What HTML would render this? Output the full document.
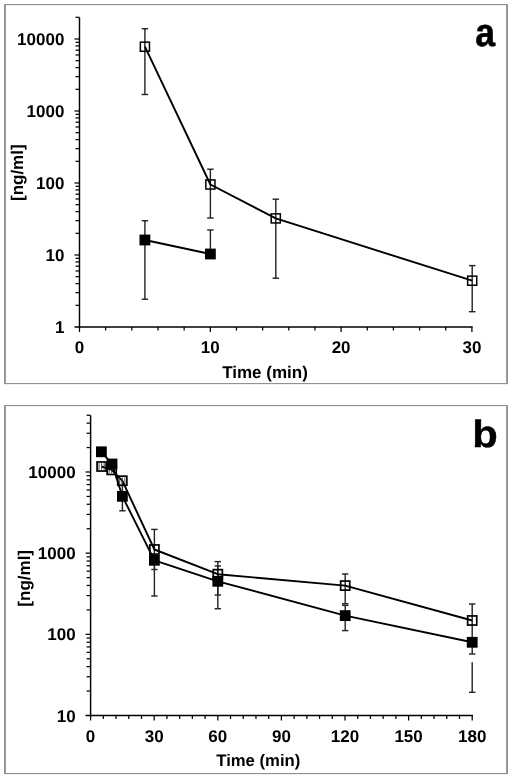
<!DOCTYPE html>
<html><head><meta charset="utf-8"><style>
html,body{margin:0;padding:0;background:#fff;width:512px;height:778px;overflow:hidden}
svg{position:absolute;left:0;top:0;will-change:transform}
text{font-family:"Liberation Sans", sans-serif;font-weight:bold;fill:#000;text-rendering:geometricPrecision}
</style></head><body>
<svg width="512" height="778" viewBox="0 0 512 778">
<path d="M4 4H508V384H4Z" fill="none" stroke="none"/>
<rect x="4" y="4" width="504" height="1.15" fill="#929292"/>
<rect x="4" y="383" width="504" height="1.15" fill="#929292"/>
<rect x="4" y="4" width="1.9" height="380" fill="#929292"/>
<rect x="506.1" y="4" width="1.9" height="380" fill="#929292"/>
<line x1="79.50" y1="17.50" x2="79.50" y2="327.80" stroke="#000" stroke-width="1.45" stroke-linecap="butt"/>
<line x1="74.50" y1="327.00" x2="472.70" y2="327.00" stroke="#000" stroke-width="1.45" stroke-linecap="butt"/>
<line x1="75.50" y1="305.33" x2="79.50" y2="305.33" stroke="#000" stroke-width="1.25" stroke-linecap="butt"/>
<line x1="75.50" y1="292.65" x2="79.50" y2="292.65" stroke="#000" stroke-width="1.25" stroke-linecap="butt"/>
<line x1="75.50" y1="283.65" x2="79.50" y2="283.65" stroke="#000" stroke-width="1.25" stroke-linecap="butt"/>
<line x1="75.50" y1="276.67" x2="79.50" y2="276.67" stroke="#000" stroke-width="1.25" stroke-linecap="butt"/>
<line x1="75.50" y1="270.97" x2="79.50" y2="270.97" stroke="#000" stroke-width="1.25" stroke-linecap="butt"/>
<line x1="75.50" y1="266.15" x2="79.50" y2="266.15" stroke="#000" stroke-width="1.25" stroke-linecap="butt"/>
<line x1="75.50" y1="261.98" x2="79.50" y2="261.98" stroke="#000" stroke-width="1.25" stroke-linecap="butt"/>
<line x1="75.50" y1="258.29" x2="79.50" y2="258.29" stroke="#000" stroke-width="1.25" stroke-linecap="butt"/>
<line x1="74.50" y1="255.00" x2="79.50" y2="255.00" stroke="#000" stroke-width="1.25" stroke-linecap="butt"/>
<line x1="75.50" y1="233.33" x2="79.50" y2="233.33" stroke="#000" stroke-width="1.25" stroke-linecap="butt"/>
<line x1="75.50" y1="220.65" x2="79.50" y2="220.65" stroke="#000" stroke-width="1.25" stroke-linecap="butt"/>
<line x1="75.50" y1="211.65" x2="79.50" y2="211.65" stroke="#000" stroke-width="1.25" stroke-linecap="butt"/>
<line x1="75.50" y1="204.67" x2="79.50" y2="204.67" stroke="#000" stroke-width="1.25" stroke-linecap="butt"/>
<line x1="75.50" y1="198.97" x2="79.50" y2="198.97" stroke="#000" stroke-width="1.25" stroke-linecap="butt"/>
<line x1="75.50" y1="194.15" x2="79.50" y2="194.15" stroke="#000" stroke-width="1.25" stroke-linecap="butt"/>
<line x1="75.50" y1="189.98" x2="79.50" y2="189.98" stroke="#000" stroke-width="1.25" stroke-linecap="butt"/>
<line x1="75.50" y1="186.29" x2="79.50" y2="186.29" stroke="#000" stroke-width="1.25" stroke-linecap="butt"/>
<line x1="74.50" y1="183.00" x2="79.50" y2="183.00" stroke="#000" stroke-width="1.25" stroke-linecap="butt"/>
<line x1="75.50" y1="161.33" x2="79.50" y2="161.33" stroke="#000" stroke-width="1.25" stroke-linecap="butt"/>
<line x1="75.50" y1="148.65" x2="79.50" y2="148.65" stroke="#000" stroke-width="1.25" stroke-linecap="butt"/>
<line x1="75.50" y1="139.65" x2="79.50" y2="139.65" stroke="#000" stroke-width="1.25" stroke-linecap="butt"/>
<line x1="75.50" y1="132.67" x2="79.50" y2="132.67" stroke="#000" stroke-width="1.25" stroke-linecap="butt"/>
<line x1="75.50" y1="126.97" x2="79.50" y2="126.97" stroke="#000" stroke-width="1.25" stroke-linecap="butt"/>
<line x1="75.50" y1="122.15" x2="79.50" y2="122.15" stroke="#000" stroke-width="1.25" stroke-linecap="butt"/>
<line x1="75.50" y1="117.98" x2="79.50" y2="117.98" stroke="#000" stroke-width="1.25" stroke-linecap="butt"/>
<line x1="75.50" y1="114.29" x2="79.50" y2="114.29" stroke="#000" stroke-width="1.25" stroke-linecap="butt"/>
<line x1="74.50" y1="111.00" x2="79.50" y2="111.00" stroke="#000" stroke-width="1.25" stroke-linecap="butt"/>
<line x1="75.50" y1="89.33" x2="79.50" y2="89.33" stroke="#000" stroke-width="1.25" stroke-linecap="butt"/>
<line x1="75.50" y1="76.65" x2="79.50" y2="76.65" stroke="#000" stroke-width="1.25" stroke-linecap="butt"/>
<line x1="75.50" y1="67.65" x2="79.50" y2="67.65" stroke="#000" stroke-width="1.25" stroke-linecap="butt"/>
<line x1="75.50" y1="60.67" x2="79.50" y2="60.67" stroke="#000" stroke-width="1.25" stroke-linecap="butt"/>
<line x1="75.50" y1="54.97" x2="79.50" y2="54.97" stroke="#000" stroke-width="1.25" stroke-linecap="butt"/>
<line x1="75.50" y1="50.15" x2="79.50" y2="50.15" stroke="#000" stroke-width="1.25" stroke-linecap="butt"/>
<line x1="75.50" y1="45.98" x2="79.50" y2="45.98" stroke="#000" stroke-width="1.25" stroke-linecap="butt"/>
<line x1="75.50" y1="42.29" x2="79.50" y2="42.29" stroke="#000" stroke-width="1.25" stroke-linecap="butt"/>
<line x1="74.50" y1="39.00" x2="79.50" y2="39.00" stroke="#000" stroke-width="1.25" stroke-linecap="butt"/>
<line x1="75.50" y1="17.33" x2="79.50" y2="17.33" stroke="#000" stroke-width="1.25" stroke-linecap="butt"/>
<line x1="79.50" y1="327.00" x2="79.50" y2="332.00" stroke="#000" stroke-width="1.25" stroke-linecap="butt"/>
<line x1="105.66" y1="327.00" x2="105.66" y2="330.50" stroke="#000" stroke-width="1.25" stroke-linecap="butt"/>
<line x1="131.82" y1="327.00" x2="131.82" y2="330.50" stroke="#000" stroke-width="1.25" stroke-linecap="butt"/>
<line x1="157.98" y1="327.00" x2="157.98" y2="330.50" stroke="#000" stroke-width="1.25" stroke-linecap="butt"/>
<line x1="184.14" y1="327.00" x2="184.14" y2="330.50" stroke="#000" stroke-width="1.25" stroke-linecap="butt"/>
<line x1="210.30" y1="327.00" x2="210.30" y2="332.00" stroke="#000" stroke-width="1.25" stroke-linecap="butt"/>
<line x1="236.46" y1="327.00" x2="236.46" y2="330.50" stroke="#000" stroke-width="1.25" stroke-linecap="butt"/>
<line x1="262.62" y1="327.00" x2="262.62" y2="330.50" stroke="#000" stroke-width="1.25" stroke-linecap="butt"/>
<line x1="288.78" y1="327.00" x2="288.78" y2="330.50" stroke="#000" stroke-width="1.25" stroke-linecap="butt"/>
<line x1="314.94" y1="327.00" x2="314.94" y2="330.50" stroke="#000" stroke-width="1.25" stroke-linecap="butt"/>
<line x1="341.10" y1="327.00" x2="341.10" y2="332.00" stroke="#000" stroke-width="1.25" stroke-linecap="butt"/>
<line x1="367.26" y1="327.00" x2="367.26" y2="330.50" stroke="#000" stroke-width="1.25" stroke-linecap="butt"/>
<line x1="393.42" y1="327.00" x2="393.42" y2="330.50" stroke="#000" stroke-width="1.25" stroke-linecap="butt"/>
<line x1="419.58" y1="327.00" x2="419.58" y2="330.50" stroke="#000" stroke-width="1.25" stroke-linecap="butt"/>
<line x1="445.74" y1="327.00" x2="445.74" y2="330.50" stroke="#000" stroke-width="1.25" stroke-linecap="butt"/>
<line x1="471.90" y1="327.00" x2="471.90" y2="332.00" stroke="#000" stroke-width="1.25" stroke-linecap="butt"/>
<text x="64.40" y="45.00" font-size="17" text-anchor="end" >10000</text>
<text x="64.40" y="117.00" font-size="17" text-anchor="end" >1000</text>
<text x="64.40" y="189.00" font-size="17" text-anchor="end" >100</text>
<text x="64.40" y="261.00" font-size="17" text-anchor="end" >10</text>
<text x="64.40" y="333.00" font-size="17" text-anchor="end" >1</text>
<text x="79.50" y="352.80" font-size="17" text-anchor="middle" >0</text>
<text x="210.30" y="352.80" font-size="17" text-anchor="middle" >10</text>
<text x="341.10" y="352.80" font-size="17" text-anchor="middle" >20</text>
<text x="471.90" y="352.80" font-size="17" text-anchor="middle" >30</text>
<text x="265.00" y="377.50" font-size="17" text-anchor="middle" >Time (min)</text>
<text transform="translate(17.5,172.7) rotate(-90)" font-size="17" text-anchor="middle" dominant-baseline="central">[ng/ml]</text>
<text transform="translate(475.3,46.3) scale(0.9,1)" font-size="39.5" stroke="#000" stroke-width="0.6">a</text>
<line x1="144.90" y1="28.70" x2="144.90" y2="94.50" stroke="#222" stroke-width="1.4" stroke-linecap="butt"/>
<line x1="141.65" y1="28.70" x2="148.15" y2="28.70" stroke="#222" stroke-width="1.4" stroke-linecap="butt"/>
<line x1="141.65" y1="94.50" x2="148.15" y2="94.50" stroke="#222" stroke-width="1.4" stroke-linecap="butt"/>
<line x1="210.40" y1="169.20" x2="210.40" y2="218.00" stroke="#222" stroke-width="1.4" stroke-linecap="butt"/>
<line x1="207.15" y1="169.20" x2="213.65" y2="169.20" stroke="#222" stroke-width="1.4" stroke-linecap="butt"/>
<line x1="207.15" y1="218.00" x2="213.65" y2="218.00" stroke="#222" stroke-width="1.4" stroke-linecap="butt"/>
<line x1="275.80" y1="199.20" x2="275.80" y2="278.20" stroke="#222" stroke-width="1.4" stroke-linecap="butt"/>
<line x1="272.55" y1="199.20" x2="279.05" y2="199.20" stroke="#222" stroke-width="1.4" stroke-linecap="butt"/>
<line x1="272.55" y1="278.20" x2="279.05" y2="278.20" stroke="#222" stroke-width="1.4" stroke-linecap="butt"/>
<line x1="472.20" y1="265.60" x2="472.20" y2="311.70" stroke="#222" stroke-width="1.4" stroke-linecap="butt"/>
<line x1="468.95" y1="265.60" x2="475.45" y2="265.60" stroke="#222" stroke-width="1.4" stroke-linecap="butt"/>
<line x1="468.95" y1="311.70" x2="475.45" y2="311.70" stroke="#222" stroke-width="1.4" stroke-linecap="butt"/>
<line x1="144.90" y1="220.70" x2="144.90" y2="299.20" stroke="#222" stroke-width="1.4" stroke-linecap="butt"/>
<line x1="141.70" y1="220.70" x2="148.10" y2="220.70" stroke="#222" stroke-width="1.4" stroke-linecap="butt"/>
<line x1="141.70" y1="299.20" x2="148.10" y2="299.20" stroke="#222" stroke-width="1.4" stroke-linecap="butt"/>
<line x1="210.40" y1="230.00" x2="210.40" y2="254.00" stroke="#222" stroke-width="1.4" stroke-linecap="butt"/>
<line x1="207.20" y1="230.00" x2="213.60" y2="230.00" stroke="#222" stroke-width="1.4" stroke-linecap="butt"/>
<rect x="140.35" y="42.15" width="9.10" height="9.10" fill="none" stroke="#000" stroke-width="1.5"/>
<rect x="205.85" y="179.95" width="9.10" height="9.10" fill="none" stroke="#000" stroke-width="1.5"/>
<rect x="271.25" y="213.85" width="9.10" height="9.10" fill="none" stroke="#000" stroke-width="1.5"/>
<rect x="467.65" y="276.15" width="9.10" height="9.10" fill="none" stroke="#000" stroke-width="1.5"/>
<rect x="139.50" y="234.60" width="10.80" height="10.80" fill="#000"/>
<rect x="205.00" y="248.60" width="10.80" height="10.80" fill="#000"/>
<polyline points="144.90,46.70 210.40,184.50 275.80,218.40 472.20,280.70" fill="none" stroke="#000" stroke-width="1.9" stroke-linejoin="round"/>
<polyline points="144.90,240.00 210.40,254.00" fill="none" stroke="#000" stroke-width="1.9" stroke-linejoin="round"/>
<path d="M4 405H508V774H4Z" fill="none" stroke="none"/>
<rect x="4" y="405" width="504" height="1.15" fill="#929292"/>
<rect x="4" y="773" width="504" height="1.15" fill="#929292"/>
<rect x="4" y="405" width="1.9" height="369" fill="#929292"/>
<rect x="506.1" y="405" width="1.9" height="369" fill="#929292"/>
<line x1="90.60" y1="415.40" x2="90.60" y2="716.30" stroke="#000" stroke-width="1.45" stroke-linecap="butt"/>
<line x1="85.60" y1="715.50" x2="473.00" y2="715.50" stroke="#000" stroke-width="1.45" stroke-linecap="butt"/>
<line x1="86.60" y1="691.07" x2="90.60" y2="691.07" stroke="#000" stroke-width="1.25" stroke-linecap="butt"/>
<line x1="86.60" y1="676.77" x2="90.60" y2="676.77" stroke="#000" stroke-width="1.25" stroke-linecap="butt"/>
<line x1="86.60" y1="666.63" x2="90.60" y2="666.63" stroke="#000" stroke-width="1.25" stroke-linecap="butt"/>
<line x1="86.60" y1="658.76" x2="90.60" y2="658.76" stroke="#000" stroke-width="1.25" stroke-linecap="butt"/>
<line x1="86.60" y1="652.34" x2="90.60" y2="652.34" stroke="#000" stroke-width="1.25" stroke-linecap="butt"/>
<line x1="86.60" y1="646.90" x2="90.60" y2="646.90" stroke="#000" stroke-width="1.25" stroke-linecap="butt"/>
<line x1="86.60" y1="642.20" x2="90.60" y2="642.20" stroke="#000" stroke-width="1.25" stroke-linecap="butt"/>
<line x1="86.60" y1="638.04" x2="90.60" y2="638.04" stroke="#000" stroke-width="1.25" stroke-linecap="butt"/>
<line x1="85.60" y1="634.33" x2="90.60" y2="634.33" stroke="#000" stroke-width="1.25" stroke-linecap="butt"/>
<line x1="86.60" y1="609.90" x2="90.60" y2="609.90" stroke="#000" stroke-width="1.25" stroke-linecap="butt"/>
<line x1="86.60" y1="595.60" x2="90.60" y2="595.60" stroke="#000" stroke-width="1.25" stroke-linecap="butt"/>
<line x1="86.60" y1="585.46" x2="90.60" y2="585.46" stroke="#000" stroke-width="1.25" stroke-linecap="butt"/>
<line x1="86.60" y1="577.59" x2="90.60" y2="577.59" stroke="#000" stroke-width="1.25" stroke-linecap="butt"/>
<line x1="86.60" y1="571.17" x2="90.60" y2="571.17" stroke="#000" stroke-width="1.25" stroke-linecap="butt"/>
<line x1="86.60" y1="565.73" x2="90.60" y2="565.73" stroke="#000" stroke-width="1.25" stroke-linecap="butt"/>
<line x1="86.60" y1="561.03" x2="90.60" y2="561.03" stroke="#000" stroke-width="1.25" stroke-linecap="butt"/>
<line x1="86.60" y1="556.87" x2="90.60" y2="556.87" stroke="#000" stroke-width="1.25" stroke-linecap="butt"/>
<line x1="85.60" y1="553.16" x2="90.60" y2="553.16" stroke="#000" stroke-width="1.25" stroke-linecap="butt"/>
<line x1="86.60" y1="528.73" x2="90.60" y2="528.73" stroke="#000" stroke-width="1.25" stroke-linecap="butt"/>
<line x1="86.60" y1="514.43" x2="90.60" y2="514.43" stroke="#000" stroke-width="1.25" stroke-linecap="butt"/>
<line x1="86.60" y1="504.29" x2="90.60" y2="504.29" stroke="#000" stroke-width="1.25" stroke-linecap="butt"/>
<line x1="86.60" y1="496.42" x2="90.60" y2="496.42" stroke="#000" stroke-width="1.25" stroke-linecap="butt"/>
<line x1="86.60" y1="490.00" x2="90.60" y2="490.00" stroke="#000" stroke-width="1.25" stroke-linecap="butt"/>
<line x1="86.60" y1="484.56" x2="90.60" y2="484.56" stroke="#000" stroke-width="1.25" stroke-linecap="butt"/>
<line x1="86.60" y1="479.86" x2="90.60" y2="479.86" stroke="#000" stroke-width="1.25" stroke-linecap="butt"/>
<line x1="86.60" y1="475.70" x2="90.60" y2="475.70" stroke="#000" stroke-width="1.25" stroke-linecap="butt"/>
<line x1="85.60" y1="471.99" x2="90.60" y2="471.99" stroke="#000" stroke-width="1.25" stroke-linecap="butt"/>
<line x1="86.60" y1="447.56" x2="90.60" y2="447.56" stroke="#000" stroke-width="1.25" stroke-linecap="butt"/>
<line x1="86.60" y1="433.26" x2="90.60" y2="433.26" stroke="#000" stroke-width="1.25" stroke-linecap="butt"/>
<line x1="86.60" y1="423.12" x2="90.60" y2="423.12" stroke="#000" stroke-width="1.25" stroke-linecap="butt"/>
<line x1="86.60" y1="415.25" x2="90.60" y2="415.25" stroke="#000" stroke-width="1.25" stroke-linecap="butt"/>
<line x1="90.60" y1="715.50" x2="90.60" y2="720.50" stroke="#000" stroke-width="1.25" stroke-linecap="butt"/>
<line x1="103.32" y1="715.50" x2="103.32" y2="719.00" stroke="#000" stroke-width="1.25" stroke-linecap="butt"/>
<line x1="116.04" y1="715.50" x2="116.04" y2="719.00" stroke="#000" stroke-width="1.25" stroke-linecap="butt"/>
<line x1="128.76" y1="715.50" x2="128.76" y2="719.00" stroke="#000" stroke-width="1.25" stroke-linecap="butt"/>
<line x1="141.48" y1="715.50" x2="141.48" y2="719.00" stroke="#000" stroke-width="1.25" stroke-linecap="butt"/>
<line x1="154.20" y1="715.50" x2="154.20" y2="720.50" stroke="#000" stroke-width="1.25" stroke-linecap="butt"/>
<line x1="166.92" y1="715.50" x2="166.92" y2="719.00" stroke="#000" stroke-width="1.25" stroke-linecap="butt"/>
<line x1="179.64" y1="715.50" x2="179.64" y2="719.00" stroke="#000" stroke-width="1.25" stroke-linecap="butt"/>
<line x1="192.36" y1="715.50" x2="192.36" y2="719.00" stroke="#000" stroke-width="1.25" stroke-linecap="butt"/>
<line x1="205.08" y1="715.50" x2="205.08" y2="719.00" stroke="#000" stroke-width="1.25" stroke-linecap="butt"/>
<line x1="217.80" y1="715.50" x2="217.80" y2="720.50" stroke="#000" stroke-width="1.25" stroke-linecap="butt"/>
<line x1="230.52" y1="715.50" x2="230.52" y2="719.00" stroke="#000" stroke-width="1.25" stroke-linecap="butt"/>
<line x1="243.24" y1="715.50" x2="243.24" y2="719.00" stroke="#000" stroke-width="1.25" stroke-linecap="butt"/>
<line x1="255.96" y1="715.50" x2="255.96" y2="719.00" stroke="#000" stroke-width="1.25" stroke-linecap="butt"/>
<line x1="268.68" y1="715.50" x2="268.68" y2="719.00" stroke="#000" stroke-width="1.25" stroke-linecap="butt"/>
<line x1="281.40" y1="715.50" x2="281.40" y2="720.50" stroke="#000" stroke-width="1.25" stroke-linecap="butt"/>
<line x1="294.12" y1="715.50" x2="294.12" y2="719.00" stroke="#000" stroke-width="1.25" stroke-linecap="butt"/>
<line x1="306.84" y1="715.50" x2="306.84" y2="719.00" stroke="#000" stroke-width="1.25" stroke-linecap="butt"/>
<line x1="319.56" y1="715.50" x2="319.56" y2="719.00" stroke="#000" stroke-width="1.25" stroke-linecap="butt"/>
<line x1="332.28" y1="715.50" x2="332.28" y2="719.00" stroke="#000" stroke-width="1.25" stroke-linecap="butt"/>
<line x1="345.00" y1="715.50" x2="345.00" y2="720.50" stroke="#000" stroke-width="1.25" stroke-linecap="butt"/>
<line x1="357.72" y1="715.50" x2="357.72" y2="719.00" stroke="#000" stroke-width="1.25" stroke-linecap="butt"/>
<line x1="370.44" y1="715.50" x2="370.44" y2="719.00" stroke="#000" stroke-width="1.25" stroke-linecap="butt"/>
<line x1="383.16" y1="715.50" x2="383.16" y2="719.00" stroke="#000" stroke-width="1.25" stroke-linecap="butt"/>
<line x1="395.88" y1="715.50" x2="395.88" y2="719.00" stroke="#000" stroke-width="1.25" stroke-linecap="butt"/>
<line x1="408.60" y1="715.50" x2="408.60" y2="720.50" stroke="#000" stroke-width="1.25" stroke-linecap="butt"/>
<line x1="421.32" y1="715.50" x2="421.32" y2="719.00" stroke="#000" stroke-width="1.25" stroke-linecap="butt"/>
<line x1="434.04" y1="715.50" x2="434.04" y2="719.00" stroke="#000" stroke-width="1.25" stroke-linecap="butt"/>
<line x1="446.76" y1="715.50" x2="446.76" y2="719.00" stroke="#000" stroke-width="1.25" stroke-linecap="butt"/>
<line x1="459.48" y1="715.50" x2="459.48" y2="719.00" stroke="#000" stroke-width="1.25" stroke-linecap="butt"/>
<line x1="472.20" y1="715.50" x2="472.20" y2="720.50" stroke="#000" stroke-width="1.25" stroke-linecap="butt"/>
<text x="75.60" y="477.99" font-size="17" text-anchor="end" >10000</text>
<text x="75.60" y="559.16" font-size="17" text-anchor="end" >1000</text>
<text x="75.60" y="640.33" font-size="17" text-anchor="end" >100</text>
<text x="75.60" y="721.50" font-size="17" text-anchor="end" >10</text>
<text x="90.60" y="742.00" font-size="17" text-anchor="middle" >0</text>
<text x="154.20" y="742.00" font-size="17" text-anchor="middle" >30</text>
<text x="217.80" y="742.00" font-size="17" text-anchor="middle" >60</text>
<text x="281.40" y="742.00" font-size="17" text-anchor="middle" >90</text>
<text x="345.00" y="742.00" font-size="17" text-anchor="middle" >120</text>
<text x="408.60" y="742.00" font-size="17" text-anchor="middle" >150</text>
<text x="472.20" y="742.00" font-size="17" text-anchor="middle" >180</text>
<text x="258.30" y="766.00" font-size="16.7" text-anchor="middle" >Time (min)</text>
<text transform="translate(24.9,578.3) rotate(-90)" font-size="17" text-anchor="middle" dominant-baseline="central">[ng/ml]</text>
<text transform="translate(472.2,446.8) scale(1.1,1)" font-size="38" stroke="#000" stroke-width="0.4">b</text>
<line x1="122.40" y1="480.80" x2="122.40" y2="510.80" stroke="#222" stroke-width="1.4" stroke-linecap="butt"/>
<line x1="119.20" y1="510.80" x2="125.60" y2="510.80" stroke="#222" stroke-width="1.4" stroke-linecap="butt"/>
<line x1="154.40" y1="529.40" x2="154.40" y2="569.50" stroke="#222" stroke-width="1.4" stroke-linecap="butt"/>
<line x1="151.20" y1="529.40" x2="157.60" y2="529.40" stroke="#222" stroke-width="1.4" stroke-linecap="butt"/>
<line x1="151.20" y1="569.50" x2="157.60" y2="569.50" stroke="#222" stroke-width="1.4" stroke-linecap="butt"/>
<line x1="154.40" y1="566.00" x2="154.40" y2="596.00" stroke="#222" stroke-width="1.4" stroke-linecap="butt"/>
<line x1="151.20" y1="596.00" x2="157.60" y2="596.00" stroke="#222" stroke-width="1.4" stroke-linecap="butt"/>
<line x1="217.80" y1="561.60" x2="217.80" y2="595.00" stroke="#222" stroke-width="1.4" stroke-linecap="butt"/>
<line x1="214.60" y1="561.60" x2="221.00" y2="561.60" stroke="#222" stroke-width="1.4" stroke-linecap="butt"/>
<line x1="214.60" y1="595.00" x2="221.00" y2="595.00" stroke="#222" stroke-width="1.4" stroke-linecap="butt"/>
<line x1="217.80" y1="566.00" x2="217.80" y2="608.75" stroke="#222" stroke-width="1.4" stroke-linecap="butt"/>
<line x1="214.60" y1="566.00" x2="221.00" y2="566.00" stroke="#222" stroke-width="1.4" stroke-linecap="butt"/>
<line x1="214.60" y1="608.75" x2="221.00" y2="608.75" stroke="#222" stroke-width="1.4" stroke-linecap="butt"/>
<line x1="345.20" y1="574.00" x2="345.20" y2="603.75" stroke="#222" stroke-width="1.4" stroke-linecap="butt"/>
<line x1="342.00" y1="574.00" x2="348.40" y2="574.00" stroke="#222" stroke-width="1.4" stroke-linecap="butt"/>
<line x1="342.00" y1="603.75" x2="348.40" y2="603.75" stroke="#222" stroke-width="1.4" stroke-linecap="butt"/>
<line x1="345.20" y1="605.30" x2="345.20" y2="630.60" stroke="#222" stroke-width="1.4" stroke-linecap="butt"/>
<line x1="342.00" y1="605.30" x2="348.40" y2="605.30" stroke="#222" stroke-width="1.4" stroke-linecap="butt"/>
<line x1="342.00" y1="630.60" x2="348.40" y2="630.60" stroke="#222" stroke-width="1.4" stroke-linecap="butt"/>
<line x1="472.20" y1="604.00" x2="472.20" y2="654.00" stroke="#222" stroke-width="1.4" stroke-linecap="butt"/>
<line x1="469.00" y1="604.00" x2="475.40" y2="604.00" stroke="#222" stroke-width="1.4" stroke-linecap="butt"/>
<line x1="469.00" y1="654.00" x2="475.40" y2="654.00" stroke="#222" stroke-width="1.4" stroke-linecap="butt"/>
<line x1="472.20" y1="662.30" x2="472.20" y2="692.30" stroke="#222" stroke-width="1.4" stroke-linecap="butt"/>
<line x1="469.00" y1="692.30" x2="475.40" y2="692.30" stroke="#222" stroke-width="1.4" stroke-linecap="butt"/>
<polyline points="101.60,466.50 111.70,469.90 122.30,480.70 154.40,549.50 217.80,574.20 345.20,585.60 472.20,620.50" fill="none" stroke="#000" stroke-width="1.9" stroke-linejoin="round"/>
<line x1="99.00" y1="463.10" x2="99.00" y2="469.90" stroke="#333" stroke-width="0.9" stroke-linecap="butt"/>
<line x1="101.60" y1="463.10" x2="101.60" y2="469.90" stroke="#333" stroke-width="0.9" stroke-linecap="butt"/>
<line x1="104.20" y1="463.10" x2="104.20" y2="469.90" stroke="#333" stroke-width="0.9" stroke-linecap="butt"/>
<line x1="109.10" y1="466.50" x2="109.10" y2="473.30" stroke="#333" stroke-width="0.9" stroke-linecap="butt"/>
<line x1="111.70" y1="466.50" x2="111.70" y2="473.30" stroke="#333" stroke-width="0.9" stroke-linecap="butt"/>
<line x1="114.30" y1="466.50" x2="114.30" y2="473.30" stroke="#333" stroke-width="0.9" stroke-linecap="butt"/>
<line x1="119.70" y1="477.30" x2="119.70" y2="484.10" stroke="#333" stroke-width="0.9" stroke-linecap="butt"/>
<line x1="122.30" y1="477.30" x2="122.30" y2="484.10" stroke="#333" stroke-width="0.9" stroke-linecap="butt"/>
<line x1="124.90" y1="477.30" x2="124.90" y2="484.10" stroke="#333" stroke-width="0.9" stroke-linecap="butt"/>
<rect x="97.05" y="461.95" width="9.10" height="9.10" fill="none" stroke="#000" stroke-width="1.7"/>
<rect x="107.15" y="465.35" width="9.10" height="9.10" fill="none" stroke="#000" stroke-width="1.7"/>
<rect x="117.75" y="476.15" width="9.10" height="9.10" fill="none" stroke="#000" stroke-width="1.7"/>
<rect x="149.85" y="544.95" width="9.10" height="9.10" fill="none" stroke="#000" stroke-width="1.7"/>
<rect x="213.25" y="569.65" width="9.10" height="9.10" fill="none" stroke="#000" stroke-width="1.7"/>
<rect x="340.65" y="581.05" width="9.10" height="9.10" fill="none" stroke="#000" stroke-width="1.7"/>
<rect x="467.65" y="615.95" width="9.10" height="9.10" fill="none" stroke="#000" stroke-width="1.7"/>
<polyline points="101.40,451.80 112.00,464.00 122.40,496.30 154.40,560.30 217.80,581.30 345.20,615.60 472.20,642.30" fill="none" stroke="#000" stroke-width="1.9" stroke-linejoin="round"/>
<rect x="96.00" y="446.40" width="10.80" height="10.80" fill="#000"/>
<rect x="106.60" y="458.60" width="10.80" height="10.80" fill="#000"/>
<rect x="117.00" y="490.90" width="10.80" height="10.80" fill="#000"/>
<rect x="149.00" y="554.90" width="10.80" height="10.80" fill="#000"/>
<rect x="212.40" y="575.90" width="10.80" height="10.80" fill="#000"/>
<rect x="339.80" y="610.20" width="10.80" height="10.80" fill="#000"/>
<rect x="466.80" y="636.90" width="10.80" height="10.80" fill="#000"/>
</svg></body></html>
